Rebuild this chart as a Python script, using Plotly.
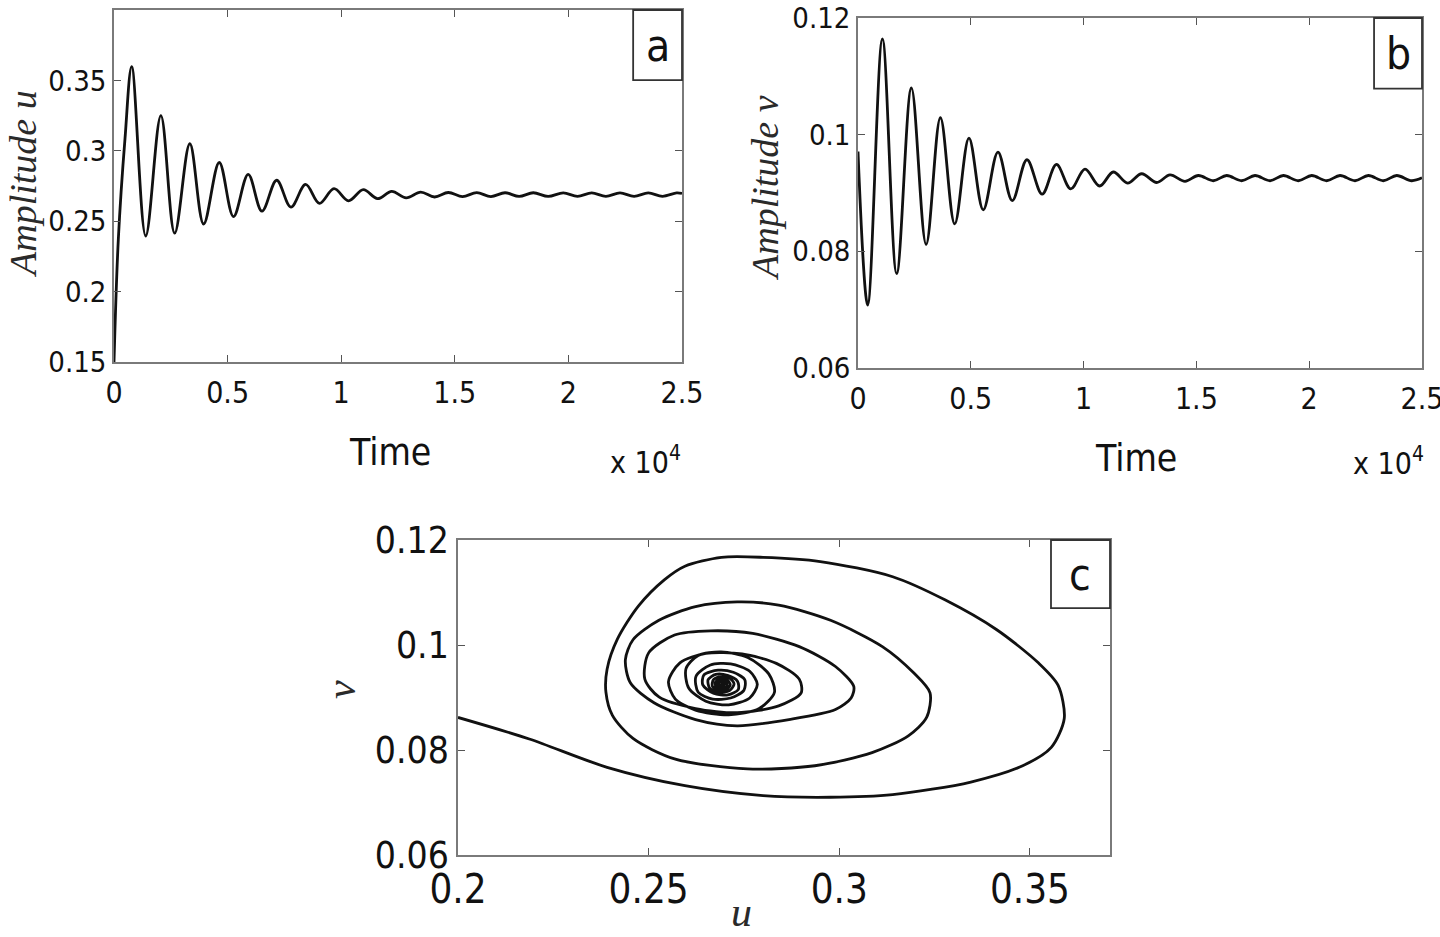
import plotly.graph_objects as go

# ---------------- data ----------------
# Panel a: Amplitude u versus time (extrema and a few points on the first rise)
time_u = [0, 190, 484, 779, 1395, 2063, 2670, 3337, 3944, 4632, 5259, 5906, 6513,
          7160, 7787, 8434, 9041, 9683, 10320, 10973, 11600, 12223, 12860, 13499,
          14110, 14714, 15340, 15964, 16590, 17210, 17830, 18455, 19110, 19776,
          20400, 21026, 21650, 22271, 22890, 23517, 24140, 24766, 25000]
amp_u = [0.150, 0.237, 0.3086, 0.3598, 0.2395, 0.3250, 0.2415, 0.3050, 0.2480,
         0.2917, 0.2533, 0.2832, 0.2571, 0.2791, 0.2600, 0.2761, 0.2626, 0.2731,
         0.2645, 0.2724, 0.2660, 0.2712, 0.2666, 0.2706, 0.2672, 0.2704, 0.2674,
         0.2703, 0.2675, 0.2702, 0.2676, 0.2702, 0.2676, 0.2701, 0.2677, 0.2701,
         0.2677, 0.2701, 0.2677, 0.2701, 0.2677, 0.2701, 0.2697]

# Panel b: Amplitude v versus time
time_v = [0, 429, 1082, 1714, 2367, 3020, 3653, 4286, 4918, 5551, 6204, 6837, 7490,
          8163, 8796, 9429, 10062, 10710, 11316, 11948, 12575, 13240, 13830, 14495,
          15086, 15751, 16342, 17007, 17598, 18263, 18854, 19519, 20110, 20775,
          21366, 22031, 22622, 23287, 23878, 24543, 25000]
amp_v = [0.0971, 0.0708, 0.1164, 0.0762, 0.1080, 0.0812, 0.1029, 0.0847, 0.0994,
         0.0871, 0.0970, 0.0887, 0.0957, 0.0898, 0.0949, 0.0907, 0.0941, 0.0912,
         0.0936, 0.0917, 0.0933, 0.0918, 0.0931, 0.0920, 0.0930, 0.0921, 0.0930,
         0.0921, 0.0930, 0.0921, 0.0930, 0.0921, 0.0930, 0.0921, 0.0930, 0.0921,
         0.0930, 0.0921, 0.0930, 0.0921, 0.0926]

# Panel c: phase portrait (u, v)
phase_u = [0.2000, 0.2187, 0.2391, 0.2595, 0.2800, 0.2977, 0.3140, 0.3345, 0.3481,
           0.3556, 0.3590, 0.3574, 0.3522, 0.3413, 0.3277, 0.3140, 0.2950, 0.2800,
           0.2691, 0.2595, 0.2541, 0.2473, 0.2418, 0.2391, 0.2388, 0.2405, 0.2459,
           0.2568, 0.2759, 0.2936, 0.3086, 0.3181, 0.3229, 0.3238, 0.3195, 0.3113,
           0.2977, 0.2841, 0.2732, 0.2623, 0.2527, 0.2459, 0.2439, 0.2452, 0.2514,
           0.2623, 0.2732, 0.2868, 0.2990, 0.3031, 0.3038, 0.2990, 0.2895, 0.2773,
           0.2663, 0.2568, 0.2500, 0.2490, 0.2527, 0.2623, 0.2732, 0.2841, 0.2900,
           0.2895, 0.2835, 0.2745, 0.2650, 0.2582, 0.2552, 0.2570, 0.2623, 0.2710,
           0.2790, 0.2830, 0.2815, 0.2760, 0.2690, 0.2630, 0.2598, 0.2605, 0.2650,
           0.2710, 0.2765, 0.2785, 0.2765, 0.2715, 0.2662, 0.2624, 0.2630, 0.2668,
           0.2715, 0.2750, 0.2752, 0.2722, 0.2682, 0.2645, 0.2642, 0.2670, 0.2708,
           0.2735, 0.2733, 0.2707, 0.2676, 0.2656, 0.2660, 0.2683, 0.2712, 0.2724,
           0.2712, 0.2690, 0.2670, 0.2667, 0.2681, 0.2703, 0.2714, 0.2705, 0.2688,
           0.2675, 0.2677, 0.2692, 0.2706, 0.2702, 0.2688, 0.2680, 0.2684, 0.2695,
           0.2700, 0.2693, 0.2685, 0.2686, 0.2692, 0.2694, 0.2689, 0.2686, 0.2689]
phase_v = [0.0862, 0.0821, 0.0767, 0.0732, 0.0713, 0.0710, 0.0715, 0.0739, 0.0770,
           0.0805, 0.0860, 0.0923, 0.0966, 0.1029, 0.1086, 0.1130, 0.1159, 0.1167,
           0.1167, 0.1150, 0.1124, 0.1074, 0.1011, 0.0954, 0.0910, 0.0866, 0.0822,
           0.0783, 0.0764, 0.0770, 0.0795, 0.0827, 0.0862, 0.0909, 0.0947, 0.0997,
           0.1047, 0.1076, 0.1082, 0.1073, 0.1047, 0.1010, 0.0972, 0.0928, 0.0890,
           0.0858, 0.0846, 0.0858, 0.0877, 0.0899, 0.0921, 0.0959, 0.0997, 0.1022,
           0.1027, 0.1019, 0.0985, 0.0935, 0.0901, 0.0879, 0.0871, 0.0884, 0.0909,
           0.0935, 0.0965, 0.0983, 0.0984, 0.0966, 0.0930, 0.0897, 0.0876, 0.0867,
           0.0879, 0.0910, 0.0945, 0.0976, 0.0987, 0.0980, 0.0955, 0.0918, 0.0893,
           0.0886, 0.0899, 0.0925, 0.0950, 0.0964, 0.0962, 0.0940, 0.0910, 0.0897,
           0.0899, 0.0914, 0.0934, 0.0948, 0.0952, 0.0943, 0.0924, 0.0908, 0.0905,
           0.0915, 0.0931, 0.0942, 0.0944, 0.0934, 0.0918, 0.0910, 0.0913, 0.0926,
           0.0937, 0.0940, 0.0934, 0.0922, 0.0914, 0.0915, 0.0924, 0.0934, 0.0936,
           0.0929, 0.0920, 0.0917, 0.0921, 0.0930, 0.0933, 0.0928, 0.0922, 0.0921,
           0.0926, 0.0930, 0.0928, 0.0924, 0.0924, 0.0927, 0.0929, 0.0927, 0.0926]

xticks_time = [0, 5000, 10000, 15000, 20000, 25000]
xtick_time_labels = ["0", "0.5", "1", "1.5", "2", "2.5"]
yticks_u = [0.15, 0.2, 0.25, 0.3, 0.35]
ytick_u_labels = ["0.15", "0.2", "0.25", "0.3", "0.35"]
yticks_v = [0.06, 0.08, 0.1, 0.12]
ytick_v_labels = ["0.06", "0.08", "0.1", "0.12"]
xticks_phase = [0.2, 0.25, 0.3, 0.35]
xtick_phase_labels = ["0.2", "0.25", "0.3", "0.35"]

# ---------------- figure ----------------
W, H = 1440, 937
NARROW = ("Liberation Sans Narrow, DejaVu Sans Condensed, Roboto Condensed, "
          "Arial Narrow, Liberation Sans, sans-serif")
SERIF = "Liberation Serif, Times New Roman, serif"
AXCOL = "#7a7a7a"

fig = go.Figure()
line = dict(color="#111111", width=2.8, shape="spline", smoothing=1.0)
fig.add_trace(go.Scatter(x=time_u, y=amp_u, mode="lines", line=line, xaxis="x", yaxis="y"))
fig.add_trace(go.Scatter(x=time_v, y=amp_v, mode="lines", line=line, xaxis="x2", yaxis="y2"))
fig.add_trace(go.Scatter(x=phase_u, y=phase_v, mode="lines",
                         line=dict(color="#111111", width=2.8, shape="spline", smoothing=0.8),
                         xaxis="x3", yaxis="y3"))


def px_x(p):
    return p / W


def px_y(p):
    return 1 - p / H


def axis_common(size, standoff=0):
    return dict(showline=True, linecolor=AXCOL, linewidth=1.5, mirror="ticks",
                ticks="inside", ticklen=7, tickwidth=1.2, tickcolor="#555555",
                showgrid=False, zeroline=False, automargin=False,
                ticklabeloverflow="allow", ticklabelstandoff=standoff,
                tickfont=dict(family=NARROW, size=size, color="#111111"))


fig.update_layout(
    width=W, height=H, autosize=False,
    margin=dict(l=0, r=0, t=0, b=0, pad=0),
    paper_bgcolor="white", plot_bgcolor="white",
    showlegend=False,
    xaxis=dict(domain=[px_x(114), px_x(682)], range=[0, 25000], anchor="y",
               tickvals=xticks_time, ticktext=xtick_time_labels,
               **axis_common(30, standoff=3)),
    yaxis=dict(domain=[px_y(362), px_y(10)], range=[0.15, 0.40], anchor="x",
               tickvals=yticks_u, ticktext=ytick_u_labels, **axis_common(29)),
    xaxis2=dict(domain=[px_x(858), px_x(1422)], range=[0, 25000], anchor="y2",
                tickvals=xticks_time, ticktext=xtick_time_labels,
                **axis_common(30, standoff=3)),
    yaxis2=dict(domain=[px_y(368), px_y(18)], range=[0.06, 0.12], anchor="x2",
                tickvals=yticks_v, ticktext=ytick_v_labels, **axis_common(29)),
    xaxis3=dict(domain=[px_x(458), px_x(1110)], range=[0.2, 0.371], anchor="y3",
                tickvals=xticks_phase, ticktext=xtick_phase_labels,
                **axis_common(40, standoff=-2)),
    yaxis3=dict(domain=[px_y(855), px_y(540)], range=[0.06, 0.12], anchor="x3",
                tickvals=yticks_v, ticktext=ytick_v_labels, **axis_common(37)),
)

# panel letter boxes
boxes = [("x", "y", 0.914, 0.801, "a"), ("x2", "y2", 0.915, 0.798, "b"),
         ("x3", "y3", 0.9095, 0.784, "c")]
for xr, yr, x0, y0, letter in boxes:
    fig.add_shape(type="rect", xref=f"{xr} domain", yref=f"{yr} domain",
                  x0=x0, x1=1, y0=y0, y1=1, line=dict(color="#333333", width=1.8),
                  fillcolor="white", layer="above")
    fig.add_annotation(xref=f"{xr} domain", yref=f"{yr} domain",
                       x=(x0 + 1) / 2, y=(y0 + 1) / 2, text=letter, showarrow=False,
                       xanchor="center", yanchor="middle",
                       font=dict(family=NARROW, size=44, color="#111111"))


def ann(x, y, text, size, family, angle=0, color="#111111", xanchor="center",
        yanchor="middle"):
    fig.add_annotation(xref="paper", yref="paper", x=px_x(x), y=px_y(y), text=text,
                       showarrow=False, textangle=angle,
                       font=dict(family=family, size=size, color=color),
                       xanchor=xanchor, yanchor=yanchor)


ann(390, 452, "Time", 37, NARROW)
ann(645, 460, "x 10<sup>4</sup>", 30, NARROW)
ann(1136, 458, "Time", 37, NARROW)
ann(1388, 462, "x 10<sup>4</sup>", 30, NARROW)
ann(0, 184, "<i>Amplitude u</i>", 38, SERIF, angle=-90, color="#2a2a2a", xanchor="left")
ann(765, 188, "<i>Amplitude v</i>", 38, SERIF, angle=-90, color="#2a2a2a")
ann(341, 690, "<i>v</i>", 42, SERIF, angle=-90, color="#2a2a2a")
ann(742, 937, "<i>u</i>", 42, SERIF, color="#2a2a2a", yanchor="bottom")

fig.write_html("out.html", config={"displayModeBar": False},
               post_script="document.body.style.margin='0px';")
